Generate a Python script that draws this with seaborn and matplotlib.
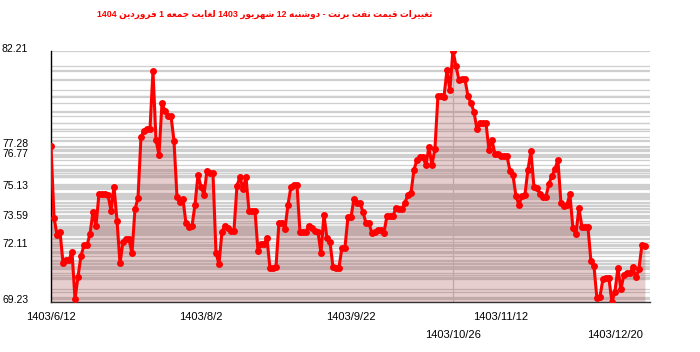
import numpy as np
import pandas as pd
import matplotlib
matplotlib.use("Agg")
import matplotlib.pyplot as plt
import matplotlib.transforms as mtransforms
import seaborn as sns

# ---------------- data ----------------
title_text = "تغییرات قیمت نفت برنت - دوشنبه 12 شهریور 1403 لغایت جمعه 1 فروردین 1404"

prices = [
    77.28, 73.59, 72.69, 72.86, 71.26, 71.40, 71.40, 71.83, 69.38, 70.54,
    71.61, 72.16, 72.16, 72.74, 73.88, 73.16, 74.81, 74.81, 74.81, 74.75,
    73.95, 75.19, 73.43, 71.23, 72.34, 72.46, 72.46, 71.75, 74.02, 74.59,
    77.74, 78.08, 78.16, 78.16, 81.16, 77.60, 76.82, 79.49,
    79.10, 78.84, 78.84, 77.55, 74.67, 74.38, 74.53, 73.29, 73.12, 73.14,
    74.24, 75.79, 75.19, 74.76, 76.00, 75.91, 75.88, 71.78, 71.18, 72.86,
    73.17, 73.04, 72.91, 72.91, 75.22, 75.70, 75.05, 75.67, 73.95, 73.95,
    73.95, 71.88, 72.22, 72.22, 72.52, 70.97, 71.00, 71.02, 73.33, 73.33,
    73.00, 74.24,
    75.19, 75.27, 75.27, 72.86, 72.86, 72.86, 73.17, 73.04, 72.91, 72.86,
    71.75, 73.72, 72.52, 72.34, 71.05, 71.00, 71.00, 72.04, 72.04, 73.60,
    73.60, 74.55, 74.33, 74.33, 73.90, 73.30, 73.30, 72.78, 72.86, 72.95,
    72.95, 72.81, 73.67, 73.67, 73.67, 74.07, 74.02, 74.02, 74.36, 74.76,
    74.84, 76.05, 76.56, 76.70, 76.70, 76.31, 77.22, 76.31, 77.13, 79.87,
    79.84, 79.80, 81.18, 80.18, 82.21, 81.42, 80.70, 80.72, 80.72, 79.87,
    79.49, 79.06, 78.15, 78.46, 78.49, 78.49, 77.08, 77.60, 76.87, 76.87,
    76.77, 76.77, 76.77, 76.01, 75.79, 74.71, 74.24, 74.71, 74.76,
    76.05, 77.00, 75.19, 75.10, 74.81, 74.67, 74.67, 75.33, 75.74, 76.08,
    76.56, 74.36, 74.19, 74.24, 74.79, 73.04, 72.73, 74.07, 73.12, 73.12,
    73.12, 71.35, 71.11, 69.42, 69.50, 70.40, 70.45, 70.45, 69.23, 69.76,
    70.97, 69.89, 70.63, 70.71, 70.71, 71.02, 70.50, 70.92, 72.17, 72.11,
]

y_ticks = [69.23, 72.11, 73.59, 75.13, 76.77, 77.28, 82.21]
y_tick_labels = ["69.23", "72.11", "73.59", "75.13", "76.77", "77.28", "82.21"]

x_upper_labels = ["1403/6/12", "1403/8/2", "1403/9/22", "1403/11/12"]
x_upper_pos = [0, 50, 100, 150]
x_lower_labels = ["1403/10/26", "1403/12/20"]
x_lower_pos = [134, 188]

# ------------- minimal Persian shaping for display -------------
_forms = {
    "ا": ("\uFE8D", "\uFE8E", "\uFE8D", "\uFE8E"),
    "ب": ("\uFE8F", "\uFE90", "\uFE91", "\uFE92"),
    "ت": ("\uFE95", "\uFE96", "\uFE97", "\uFE98"),
    "ج": ("\uFE9D", "\uFE9E", "\uFE9F", "\uFEA0"),
    "د": ("\uFEA9", "\uFEAA", "\uFEA9", "\uFEAA"),
    "ر": ("\uFEAD", "\uFEAE", "\uFEAD", "\uFEAE"),
    "ش": ("\uFEB5", "\uFEB6", "\uFEB7", "\uFEB8"),
    "ع": ("\uFEC9", "\uFECA", "\uFECB", "\uFECC"),
    "غ": ("\uFECD", "\uFECE", "\uFECF", "\uFED0"),
    "ف": ("\uFED1", "\uFED2", "\uFED3", "\uFED4"),
    "ق": ("\uFED5", "\uFED6", "\uFED7", "\uFED8"),
    "ل": ("\uFEDD", "\uFEDE", "\uFEDF", "\uFEE0"),
    "م": ("\uFEE1", "\uFEE2", "\uFEE3", "\uFEE4"),
    "ن": ("\uFEE5", "\uFEE6", "\uFEE7", "\uFEE8"),
    "ه": ("\uFEE9", "\uFEEA", "\uFEEB", "\uFEEC"),
    "و": ("\uFEED", "\uFEEE", "\uFEED", "\uFEEE"),
    "ی": ("\uFEEF", "\uFEF0", "\uFEF3", "\uFEF4"),
}
_right_only = set("ادرو")


def _shape_word(w):
    out = []
    for i, ch in enumerate(w):
        if ch not in _forms:
            out.append(ch)
            continue
        prev = w[i - 1] if i > 0 else None
        nxt = w[i + 1] if i + 1 < len(w) else None
        jp = prev in _forms and prev not in _right_only
        jn = nxt in _forms and ch not in _right_only
        iso, fin, ini, med = _forms[ch]
        out.append(med if (jp and jn) else fin if jp else ini if jn else iso)
    return "".join(out)[::-1]


def visual_rtl(s):
    toks = s.split(" ")
    res = []
    for t in reversed(toks):
        if any(c in _forms for c in t):
            res.append(_shape_word(t))
        else:
            res.append(t)
    return " ".join(res)


# ---------------- plot ----------------
sns.set_style("white")
plt.rcParams["font.family"] = ["Liberation Sans", "DejaVu Sans"]

df = pd.DataFrame({"i": np.arange(len(prices)), "price": prices})

fig = plt.figure(figsize=(7.0, 3.52), dpi=100)
ax = fig.add_axes([51 / 700, 50 / 352, 599 / 700, 251.5 / 352])

ymin, ymax = min(y_ticks), max(y_ticks)

for v in sorted(set(prices)):
    ax.axhline(v, color="#cfcfcf", lw=0.9, zorder=1)

ax.axvline(x_lower_pos[0], color="#cccccc", lw=0.9, zorder=1)

ax.fill_between(df["i"], df["price"], ymin, color=(160 / 255, 60 / 255, 60 / 255),
                alpha=0.25, lw=0, zorder=2)

sns.lineplot(data=df, x="i", y="price", ax=ax, color="#ff0000", lw=2.2,
             marker="o", markersize=5.0, markeredgewidth=0, zorder=3)

ax.set_xlim(0, 199.7)
ax.set_ylim(ymin, ymax)
ax.set_xlabel("")
ax.set_ylabel("")

for s in ["top", "right"]:
    ax.spines[s].set_visible(False)
ax.spines["left"].set_color("#000000")
ax.spines["left"].set_linewidth(1.0)
ax.spines["bottom"].set_color("#333333")
ax.spines["bottom"].set_linewidth(1.0)

ax.set_yticks(y_ticks)
ax.set_yticklabels(y_tick_labels)
ax.tick_params(axis="y", direction="out", length=4.3, width=0.8, pad=12,
               labelsize=7.5, colors="#000000")
shift = mtransforms.ScaledTranslation(0, 3 / 100, fig.dpi_scale_trans)
for lab in ax.get_yticklabels():
    lab.set_transform(lab.get_transform() + shift)

ax.set_xticks(x_upper_pos)
ax.set_xticklabels(x_upper_labels)
ax.set_xticks(x_lower_pos, minor=True)
ax.set_xticklabels(x_lower_labels, minor=True)
ax.tick_params(axis="x", which="major", direction="inout", length=7, width=0.8,
               pad=4, labelsize=8, colors="#000000")
ax.tick_params(axis="x", which="minor", direction="out", length=18, width=0.8,
               pad=2, labelsize=8, colors="#000000")
mt = ax.xaxis.get_minor_ticks()
mt[0].tick1line.set_color("#cccccc")

fig.text(265 / 700, 1 - 14 / 352, visual_rtl(title_text), color="#ff0000",
         ha="center", va="center", fontsize=6.4, fontweight="bold",
         family=["Liberation Sans", "DejaVu Sans"])

fig.savefig("out.png", dpi=100)
